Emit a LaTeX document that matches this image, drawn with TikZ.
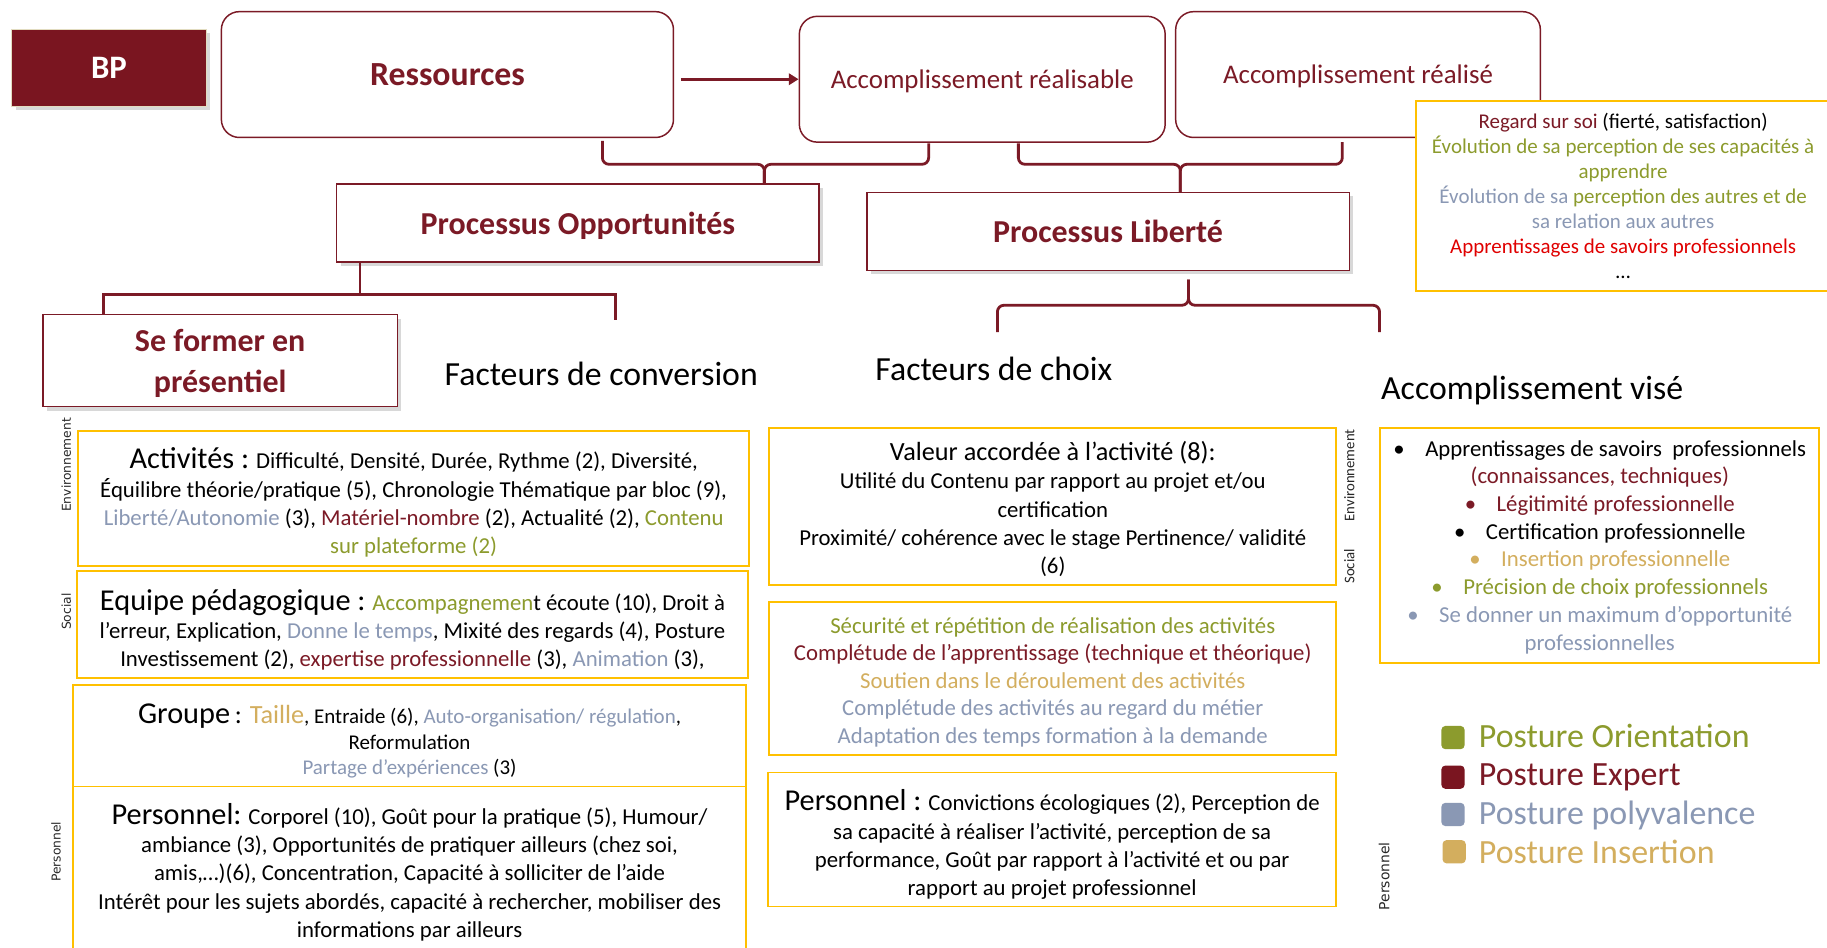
\documentclass[tikz,border=0pt]{standalone}
\usepackage{fontspec}
\setmainfont{Carlito}
\newfontfamily\dejafont{DejaVu Sans}
\usetikzlibrary{arrows.meta,shadows}
\definecolor{brunrouge}{HTML}{7B1A26}
\definecolor{bpfond}{HTML}{7A1520}
\definecolor{bordbp}{HTML}{E2DCC0}
\definecolor{vertolive}{HTML}{8C9B2D}
\definecolor{bleugris}{HTML}{8A98B4}
\definecolor{ocre}{HTML}{D3AE5E}
\definecolor{rougevif}{HTML}{E00000}
\definecolor{orjaune}{HTML}{FFC000}
\newcommand{\unitpx}{0.025cm}
\newcommand{\fsz}[2]{\fontsize{#1}{#2}\selectfont}
\newcommand{\gros}[1]{{\fsz{18.5}{17.5}#1}}
\begin{document}
\begin{tikzpicture}[x=0.025cm,y=-0.025cm,
  taille/.style 2 args={minimum width=#1*\unitpx,minimum height=#2*\unitpx,inner sep=1pt},
  ombre/.style={drop shadow={shadow xshift=2.5pt,shadow yshift=-2.5pt,opacity=0.3}},
  rbox/.style={draw=brunrouge,line width=0.9pt,rounded corners=11pt,fill=white,text=brunrouge,text depth=0pt,font=\fsz{16.4}{19}},
  pbox/.style={draw=brunrouge,line width=0.9pt,fill=white,text=brunrouge,align=center,text depth=0pt,font=\bfseries\fsz{19.5}{25},ombre},
  jbox/.style={draw=orjaune,line width=1.2pt,fill=white},
  jtexte/.style={align=center,inner sep=0,font=\fsz{13.9}{17.3}},
  titre/.style={font=\fsz{20.6}{24}},
  vlab/.style={rotate=90,font=\dejafont\fsz{7.5}{9},text=black!85},
  accol/.style={brunrouge,line width=1.7pt,rounded corners=4pt},
  accolq/.style={brunrouge,line width=1.7pt},
  fleche/.style={brunrouge,line width=2pt,-{Triangle[length=6pt,width=7pt]},shorten <=4pt},
  carre/.style={rounded corners=2.5pt,minimum size=20*\unitpx,inner sep=0},
  legende/.style={anchor=west,inner sep=0,font=\fsz{20.7}{24}}]
\fill[white] (0,0) rectangle (1568,813);
\useasboundingbox (0,0) rectangle (1568,813);
% haut : ressources et accomplissements
\node[taille={167}{66},fill=bpfond,draw=bordbp,line width=0.6pt,text=white,font=\bfseries\fsz{20}{24},ombre] (bp) at (93.5,58) {BP};
\node[rbox,taille={388}{108},font=\bfseries\fsz{20.6}{24}] (ress) at (384,64) {Ressources};
\node[rbox,taille={314}{108}] (real) at (843,68) {Accomplissement réalisable};
\node[rbox,taille={313}{108}] (fait) at (1165.5,64) {Accomplissement réalisé};
\draw[fleche] (ress.east |- real.west) -- (real.west);
\node[jbox,taille={360}{163}] (regard) at (1395,168.5) {};
\node[jtexte,font=\fsz{12.8}{15.3}] (regardt) at (1393,168) {\textcolor{brunrouge}{Regard sur soi} (fierté, satisfaction)\\
  \textcolor{vertolive}{Évolution de sa perception de ses capacités à}\\
  \textcolor{vertolive}{apprendre}\\
  \textcolor{bleugris}{Évolution de sa} \textcolor{vertolive}{perception des autres et de}\\
  \textcolor{bleugris}{sa relation aux autres}\\
  \textcolor{rougevif}{Apprentissages de savoirs professionnels}\\
  …};
% processus
\node[pbox,taille={414}{67}] (opp) at (496,191.5) {Processus Opportunités};
\node[pbox,taille={414}{67}] (lib) at (951,198.5) {Processus Liberté};
\node[pbox,taille={304}{79}] (form) at (189,309.5) {Se former en\\présentiel};
% accolades
\coordinate (a1) at (517,121); \coordinate (a2) at (797,123); \coordinate (a0) at (656,158);
\draw[accol] (a1) -- ++(0,20) -| (a0);
\draw[accol] (a2) -- ++(0,18) -| (a0);
\coordinate (a3) at (874,123); \coordinate (a4) at (1152,122); \coordinate (a5) at (1013,165);
\draw[accol] (a3) -- ++(0,18) -| (a5);
\draw[accol] (a4) -- ++(0,19) -| (a5);
\coordinate (c0) at (309,225); \coordinate (c1) at (89,270); \coordinate (c2) at (528,275);
\draw[accolq] (c0) -- ++(0,28) -| (c1);
\draw[accolq] (c0) -- ++(0,28) -| (c2);
\coordinate (d0) at (1020,240); \coordinate (d1) at (856,285); \coordinate (d2) at (1184,285);
\draw[accol] (d0) -- ++(0,22) -| (d1);
\draw[accol] (d0) -- ++(0,22) -| (d2);
\node[titre] (conv) at (516,321) {Facteurs de conversion};
\node[titre] (choix) at (853,317) {Facteurs de choix};
\node[titre] (vise) at (1315,335) {Accomplissement visé};
% facteurs de conversion
\node[jbox,taille={576}{116}] (activ) at (355,428) {};
\node[jtexte] (activt) at (355,431.5) {\gros{Activités :} Difficulté, Densité, Durée, Rythme (2), Diversité,\\
  Équilibre théorie/pratique (5), Chronologie Thématique par bloc (9),\\
  \textcolor{bleugris}{Liberté/Autonomie} (3), \textcolor{brunrouge}{Matériel-nombre} (2), Actualité (2), \textcolor{vertolive}{Contenu}\\
  \textcolor{vertolive}{sur plateforme (2)}};
\node[jbox,taille={576}{92}] (equipe) at (354,536) {};
\node[jtexte] (equipet) at (354,540.5) {\gros{Equipe pédagogique :} \textcolor{vertolive}{Accompagnemen}t écoute (10), Droit à\\
  l’erreur, Explication, \textcolor{bleugris}{Donne le temps}, Mixité des regards (4), Posture\\
  Investissement (2), \textcolor{brunrouge}{expertise professionnelle} (3), \textcolor{bleugris}{Animation} (3),};
\node[jbox,taille={577}{87}] (groupe) at (351.5,631.5) {};
\node[jtexte,font=\fsz{12.8}{15.8}] (groupet) at (351.5,636) {\gros{Groupe} {\fsz{16}{16}: \textcolor{ocre}{Taille}}, Entraide (6), \textcolor{bleugris}{Auto-organisation/ régulation},\\
  Reformulation\\
  \textcolor{bleugris}{Partage d’expériences} (3)};
\node[jbox,taille={577}{144}] (perso) at (351.5,747) {};
\node[jtexte] (persot) at (351.5,748.5) {\gros{Personnel:} Corporel (10), Goût pour la pratique (5), Humour/\\
  ambiance (3), Opportunités de pratiquer ailleurs (chez soi,\\
  amis,…)(6), Concentration, Capacité à solliciter de l’aide\\
  Intérêt pour les sujets abordés, capacité à rechercher, mobiliser des\\
  informations par ailleurs};
% facteurs de choix
\node[jbox,taille={487}{135}] (valeur) at (903.5,434.5) {};
\node[jtexte] (valeurt) at (903.5,437) {{\fsz{16}{17}Valeur accordée à l’activité (8):}\\
  Utilité du Contenu par rapport au projet et/ou\\
  certification\\
  Proximité/ cohérence avec le stage Pertinence/ validité\\
  (6)};
\node[jbox,taille={487}{131}] (secu) at (903.5,582.5) {};
\node[jtexte,font=\fsz{13.9}{16.8}] (secut) at (903.5,585.5) {\textcolor{vertolive}{Sécurité et répétition de réalisation des activités}\\
  \textcolor{brunrouge}{Complétude de l’apprentissage (technique et théorique)}\\
  \textcolor{ocre}{Soutien dans le déroulement des activités}\\
  \textcolor{bleugris}{Complétude des activités au regard du métier}\\
  \textcolor{bleugris}{Adaptation des temps formation à la demande}};
\node[jbox,taille={488}{115}] (persob) at (903,720.5) {};
\node[jtexte] (persobt) at (903,725) {\gros{Personnel :} Convictions écologiques (2), Perception de\\
  sa capacité à réaliser l’activité, perception de sa\\
  performance, Goût par rapport à l’activité et ou par\\
  rapport au projet professionnel};
% accomplissement vise
\node[jbox,taille={377}{202}] (visebox) at (1372.5,468) {};
\node[jtexte,font=\fsz{13.9}{16.9}] (visebt) at (1373,469.5) {•\hspace{0.9em}Apprentissages de savoirs\ \ professionnels\\
  \textcolor{brunrouge}{(connaissances, techniques)}\\
  \textcolor{brunrouge}{•\hspace{0.9em}Légitimité professionnelle}\\
  •\hspace{0.9em}Certification professionnelle\\
  \textcolor{ocre}{•\hspace{0.9em}Insertion professionnelle}\\
  \textcolor{vertolive}{•\hspace{0.9em}Précision de choix professionnels}\\
  \textcolor{bleugris}{•\hspace{0.9em}Se donner un maximum d’opportunité}\\
  \textcolor{bleugris}{professionnelles}};
% etiquettes verticales
\node[vlab] (env1) at (57,399) {Environnement};
\node[vlab] (soc1) at (57,525) {Social};
\node[vlab] (per1) at (48,731) {Personnel};
\node[vlab,font=\fsz{9}{10}] (env2) at (1158,408) {Environnement};
\node[vlab,font=\fsz{9}{10}] (soc2) at (1158,486) {Social};
\node[vlab,font=\dejafont\fsz{8.5}{10}] (per2) at (1188,752) {Personnel};
% legende
\node[carre,fill=vertolive] (lo) at (1247,633) {};
\node[carre,fill=bpfond] (le) at (1247,667) {};
\node[carre,fill=bleugris] (lp) at (1247,699) {};
\node[carre,fill=ocre] (li) at (1248,731) {};
\node[legende,text=vertolive] (to) at (1269,632) {Posture Orientation};
\node[legende,text=brunrouge] (te) at (1269,667) {Posture Expert};
\node[legende,text=bleugris] (tp) at (1269,700) {Posture polyvalence};
\node[legende,text=ocre] (ti) at (1269,731) {Posture Insertion};
\end{tikzpicture}
\end{document}
